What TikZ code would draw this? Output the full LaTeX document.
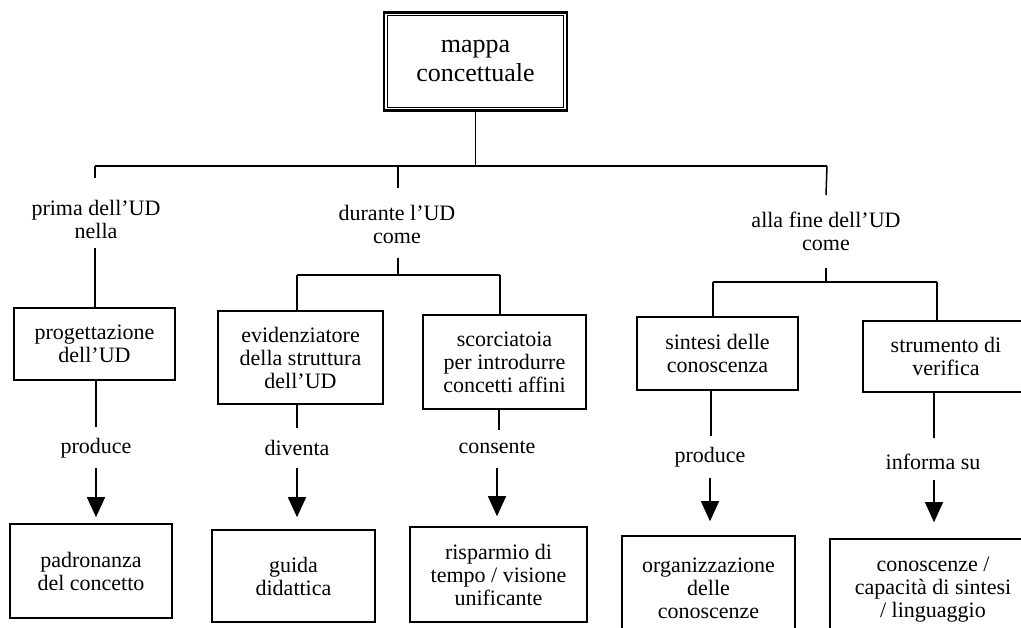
\documentclass[tikz,border=0pt]{standalone}
\usepackage{fontspec}
\setmainfont{Liberation Serif}
\usetikzlibrary{arrows.meta}
\begin{document}
\begin{tikzpicture}[x=1pt,y=-1pt,
  wire/.style={line width=1.5pt},
  arrowwire/.style={line width=1.5pt,-{Triangle[width=18pt,length=20pt]}},
  concept/.style={draw,line width=1.6pt,align=center,inner sep=0pt,
    font=\fontsize{22}{23}\selectfont},
  linkword/.style={align=center,inner sep=0pt,font=\fontsize{22}{23}\selectfont}]
\useasboundingbox (0,0) rectangle (1021,628);
\fill[white] (0,0) rectangle (1021,628);

% root concept with a double frame
\node[draw,line width=2.6pt,minimum width=183pt,minimum height=98pt,align=center,
      inner sep=0pt,font=\fontsize{26}{29}\selectfont] (root) at (475.5,61.5)
      {mappa\\concettuale};
\draw[line width=1.3pt] ([shift={(4.5,4.5)}]root.north west)
      rectangle ([shift={(-4.5,-4.5)}]root.south east);

% main horizontal bus
\coordinate (hL) at (95,166);
\coordinate (hR) at (827,166);
\draw[wire] (root.south) -- (root.south |- hL);
\draw[wire] (hL) -- (hR);

% ---- left branch: before the unit
\node[linkword] (la) at (96,219) {prima dell’UD\\nella};
\coordinate (la1) at (95,178);
\coordinate (la2) at (95,248);
\node[concept,minimum width=161pt,minimum height=72pt] (prog) at (94.5,344)
      {progettazione\\dell’UD};
\draw[wire] (hL) -- (la1);
\draw[wire] (la2) -- (prog.north -| la2);
\node[linkword] (v1) at (96,448) {produce};
\coordinate (v1a) at (96,427);
\coordinate (v1b) at (96,468);
\node[concept,minimum width=162pt,minimum height=94pt] (padr) at (91,571)
      {padronanza\\del concetto};
\draw[wire] (prog.south -| v1a) -- (v1a);

% ---- middle branch: during the unit
\coordinate (hM) at (398,166);
\coordinate (lb1) at (398,188);
\node[linkword] (lb) at (397,224) {durante l’UD\\come};
\coordinate (lb2) at (398,258);
\coordinate (mB) at (398,275);
\coordinate (mL) at (297,275);
\coordinate (mR) at (500,275);
\draw[wire] (hM) -- (lb1);
\draw[wire] (lb2) -- (mB);
\draw[wire] (mL) -- (mR);

\node[concept,minimum width=165pt,minimum height=93pt] (evid) at (300.5,357.5)
      {evidenziatore\\della struttura\\dell’UD};
\draw[wire] (mL) -- (evid.north -| mL);
\node[linkword] (v2) at (297,448) {diventa};
\coordinate (v2a) at (297,428);
\coordinate (v2b) at (297,468);
\node[concept,minimum width=163pt,minimum height=92pt] (guida) at (293.5,576)
      {guida\\didattica};
\draw[wire] (evid.south -| v2a) -- (v2a);

\node[concept,minimum width=163pt,minimum height=94pt] (scor) at (504.5,362)
      {scorciatoia\\per introdurre\\concetti affini};
\draw[wire] (mR) -- (scor.north -| mR);
\node[linkword] (v3) at (497,447) {consente};
\coordinate (v3a) at (499,430);
\coordinate (v3b) at (497,468);
\node[concept,minimum width=177pt,minimum height=95pt] (risp) at (498.5,574.5)
      {risparmio di\\tempo / visione\\unificante};
\draw[wire] (scor.south -| v3a) -- (v3a);

% ---- right branch: at the end of the unit
\coordinate (rc1) at (826,195);
\node[linkword] (lc) at (826,231) {alla fine dell’UD\\come};
\coordinate (rc2) at (826,268);
\coordinate (rB) at (826,282);
\coordinate (rL) at (713,282);
\coordinate (rR) at (937,282);
\draw[wire] (hR) -- (rc1);
\draw[wire] (rc2) -- (rB);
\draw[wire] (rL) -- (rR);

\node[concept,minimum width=161pt,minimum height=73pt] (sint) at (717.5,353.5)
      {sintesi delle\\conoscenza};
\draw[wire] (rL) -- (sint.north -| rL);
\node[linkword] (v4) at (710,457) {produce};
\coordinate (v4a) at (711,436);
\coordinate (v4b) at (710,478);
\node[concept,minimum width=173pt,minimum height=104pt] (orga) at (708.5,588)
      {organizzazione\\delle\\conoscenze};
\draw[wire] (sint.south -| v4a) -- (v4a);

\node[concept,minimum width=166pt,minimum height=71pt] (strum) at (946,356.5)
      {strumento di\\verifica};
\draw[wire] (rR) -- (strum.north -| rR);
\node[linkword] (v5) at (933,462) {informa su};
\coordinate (v5a) at (934,438);
\coordinate (v5b) at (934,480);
\node[concept,minimum width=206pt,minimum height=102pt] (cono) at (933,590)
      {conoscenze /\\capacità di sintesi\\/ linguaggio};
\draw[wire] (strum.south -| v5a) -- (v5a);

% arrows into the result concepts
\draw[arrowwire] (v1b) -- ([yshift=6pt]padr.north -| v1b);
\draw[arrowwire] (v2b) -- ([yshift=12pt]guida.north -| v2b);
\draw[arrowwire] (v3b) -- ([yshift=10pt]risp.north -| v3b);
\draw[arrowwire] (v4b) -- ([yshift=14pt]orga.north -| v4b);
\draw[arrowwire] (v5b) -- ([yshift=16pt]cono.north -| v5b);
\end{tikzpicture}
\end{document}
